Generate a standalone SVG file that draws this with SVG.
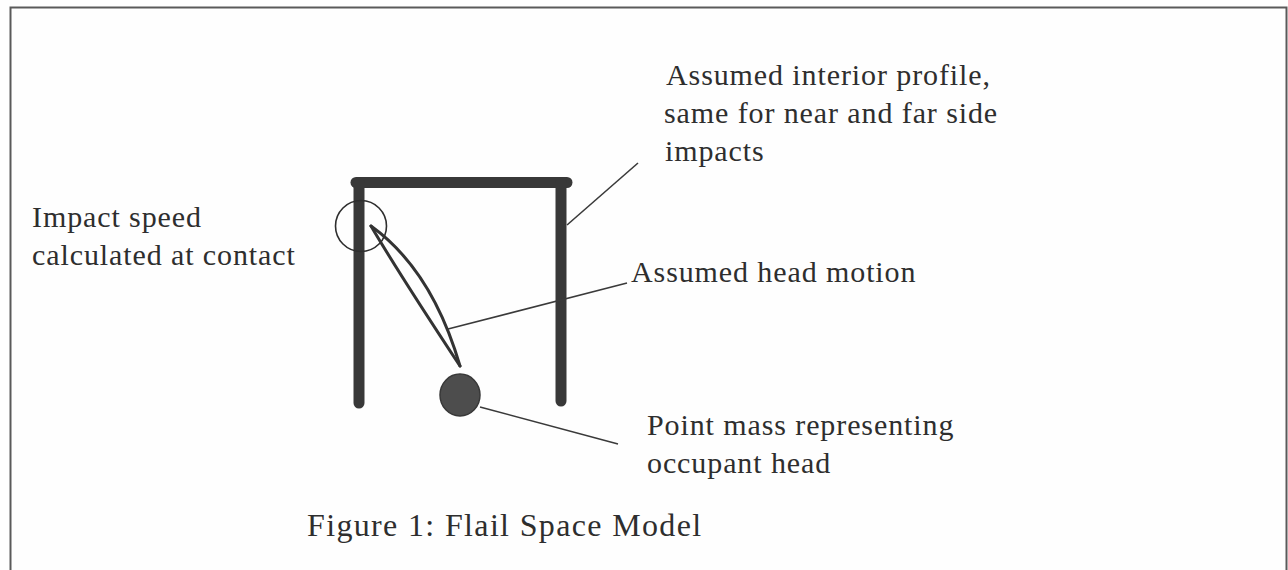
<svg xmlns="http://www.w3.org/2000/svg" width="1288" height="570" viewBox="0 0 1288 570">
  <style>
    .label { font-family: "Liberation Serif", "Times New Roman", serif; font-size: 30px; fill: #2e2e2e; letter-spacing: 0.9px; }
    .caption { font-size: 32px; letter-spacing: 1.35px; }
    .frame { fill: none; stroke: #5a5a5a; stroke-width: 2; }
    .wall { stroke: #383838; stroke-width: 11; stroke-linecap: round; fill: none; }
    .leader { stroke: #3a3a3a; stroke-width: 1.6; fill: none; }
    .path { stroke: #333; stroke-width: 3; fill: none; stroke-linecap: round; }
  </style>
  <rect width="1288" height="570" fill="#fefefe"/>
  <!-- figure frame: top, left and right edges -->
  <path class="frame" d="M10.5,570 V7.5 H1286.5 V570"/>

  <!-- interior profile: roof and two side walls -->
  <g id="profile">
    <path class="wall" d="M356,182.5 H567"/>
    <path class="wall" d="M359,183 V403"/>
    <path class="wall" d="M561,183 V401"/>
  </g>

  <!-- contact marker -->
  <g id="contact">
    <circle cx="361" cy="226" r="25.5" fill="none" stroke="#2e2e2e" stroke-width="1.6"/>
  </g>

  <!-- head trajectory -->
  <g id="head-motion">
    <path class="path" d="M371,226 Q398,272 460,366"/>
    <path class="path" d="M371,226 Q432,270 460,366"/>
  </g>

  <!-- point mass -->
  <g id="head-mass">
    <ellipse cx="460" cy="395" rx="20" ry="21" fill="#4d4d4d" stroke="#383838" stroke-width="1.5"/>
  </g>

  <!-- leader lines -->
  <g id="connectors">
    <line class="leader" x1="567" y1="225" x2="638" y2="163"/>
    <line class="leader" x1="448" y1="329" x2="627" y2="283"/>
    <line class="leader" x1="480" y1="407" x2="618" y2="444"/>
  </g>

  <g id="label-profile">
    <text class="label" x="666" y="85">Assumed interior profile,</text>
    <text class="label" x="664" y="123">same for near and far side</text>
    <text class="label" x="665" y="161">impacts</text>
  </g>
  <g id="label-impact">
    <text class="label" x="32" y="227">Impact speed</text>
    <text class="label" x="32" y="265">calculated at contact</text>
  </g>
  <g id="label-motion">
    <text class="label" x="631" y="282">Assumed head motion</text>
  </g>
  <g id="label-mass">
    <text class="label" x="647" y="435">Point mass representing</text>
    <text class="label" x="647" y="473">occupant head</text>
  </g>
  <g id="caption">
    <text class="label caption" x="307" y="536">Figure 1: Flail Space Model</text>
  </g>
</svg>
